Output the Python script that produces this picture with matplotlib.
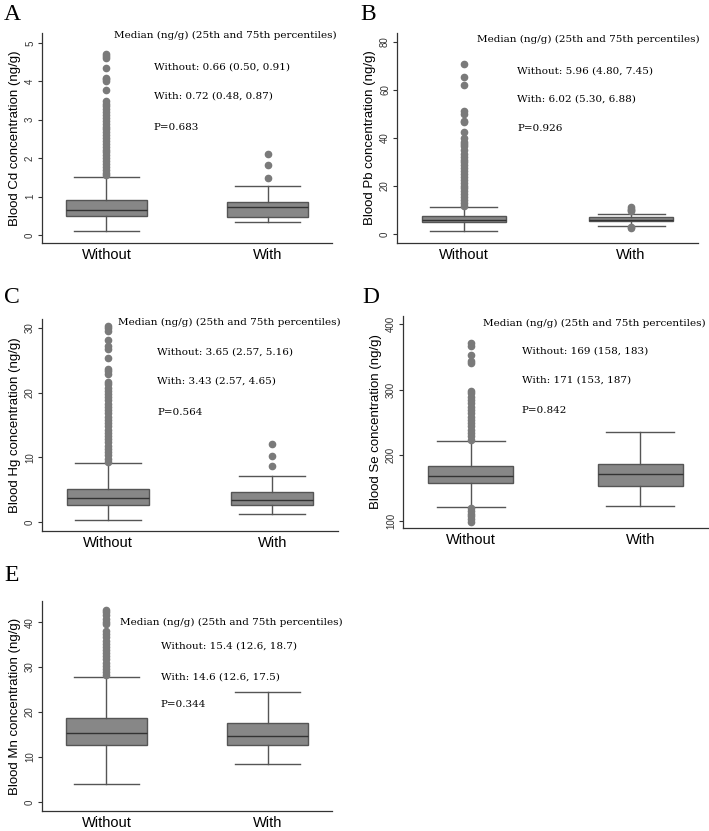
import matplotlib
matplotlib.use('Agg')
import matplotlib.pyplot as plt

groups = ["Without", "With"]
panel_letters = ["A", "B", "C", "D", "E"]
metals = ["Cd", "Pb", "Hg", "Se", "Mn"]

# box stats per metal: (whislo, q1, med, q3, whishi) for Without / With
cd_without = [0.09, 0.50, 0.66, 0.91, 1.52]
cd_with = [0.33, 0.48, 0.72, 0.87, 1.27]
pb_without = [1.2, 4.80, 5.96, 7.45, 11.3]
pb_with = [3.3, 5.30, 6.02, 6.88, 8.5]
hg_without = [0.35, 2.57, 3.65, 5.16, 9.1]
hg_with = [1.2, 2.57, 3.43, 4.65, 7.1]
se_without = [121, 158, 169, 183, 221]
se_with = [123, 153, 171, 187, 236]
mn_without = [4.0, 12.6, 15.4, 18.7, 27.8]
mn_with = [8.4, 12.6, 14.6, 17.5, 24.5]

# outliers
cd_out_without = [1.55, 1.62, 1.7, 1.78, 1.85, 1.92, 2.0, 2.08, 2.15, 2.22, 2.3, 2.38,
                  2.45, 2.52, 2.6, 2.68, 2.75, 2.82, 2.9, 2.98, 3.05, 3.12, 3.2, 3.28,
                  3.35, 3.42, 3.48, 3.78, 4.0, 4.05, 4.1, 4.35, 4.62, 4.67, 4.72]
cd_out_with = [1.48, 1.82, 2.12]
pb_out_without = [11.8, 13, 14.2, 15.4, 16.6, 17.8, 19, 20.2, 21.4, 22.6, 23.8, 25,
                  26.2, 27.4, 28.6, 29.8, 31, 32.2, 33.5, 35, 36.5, 37.5, 38.5, 40,
                  42.3, 46.5, 47.2, 50.2, 51.3, 62, 65.5, 71]
pb_out_with = [2.4, 2.8, 9.4, 10, 10.6, 11.1]
hg_out_without = [9.3, 9.8, 10.3, 10.8, 11.3, 11.8, 12.3, 12.8, 13.3, 13.8, 14.3, 14.8,
                  15.3, 15.8, 16.3, 16.8, 17.3, 17.8, 18.3, 18.8, 19.3, 19.8, 20.3,
                  20.8, 21.3, 21.7, 22.9, 23.3, 23.6, 25.3, 26.8, 27.3, 28.1, 29.6,
                  30.0, 30.3]
hg_out_with = [8.6, 10.2, 12.1]
se_out_without = [99, 103, 107, 111, 115, 119, 224, 229, 234, 239, 244, 249, 254, 259,
                  264, 269, 274, 279, 284, 289, 295, 298, 340, 343, 353, 366, 371]
se_out_with = []
mn_out_without = [28.2, 28.9, 29.6, 30.3, 31.0, 31.7, 32.4, 33.1, 33.8, 34.5, 35.2,
                  35.9, 36.6, 37.3, 38.0, 39.5, 40.1, 40.6, 41.6, 42.2, 42.6]
mn_out_with = []

ann_without = ["0.66 (0.50, 0.91)", "5.96 (4.80, 7.45)", "3.65 (2.57, 5.16)",
               "169 (158, 183)", "15.4 (12.6, 18.7)"]
ann_with = ["0.72 (0.48, 0.87)", "6.02 (5.30, 6.88)", "3.43 (2.57, 4.65)",
            "171 (153, 187)", "14.6 (12.6, 17.5)"]
p_values = ["0.683", "0.926", "0.564", "0.842", "0.344"]

stats = [(cd_without, cd_with), (pb_without, pb_with), (hg_without, hg_with),
         (se_without, se_with), (mn_without, mn_with)]
outliers = [(cd_out_without, cd_out_with), (pb_out_without, pb_out_with),
            (hg_out_without, hg_out_with), (se_out_without, se_out_with),
            (mn_out_without, mn_out_with)]
yticks = [[0, 1, 2, 3, 4, 5], [0, 20, 40, 60, 80], [0, 10, 20, 30],
          [100, 200, 300, 400], [0, 10, 20, 30, 40]]
ylims = [(-0.21, 5.26), (-3.75, 83.75), (-1.39, 31.4), (89.3, 412), (-2.0, 44.7)]

# layout (pixels) and text positions (axes fractions)
W, H = 709, 831
rects = [(42, 33, 290, 210), (397, 33, 301, 210), (42, 319, 296, 212),
         (403, 316, 305, 212), (42, 601, 290, 210)]
text_x = [(0.248, 0.386), (0.266, 0.40), (0.257, 0.39), (0.262, 0.39), (0.27, 0.41)]
text_y = [(0.99, 0.84, 0.70, 0.55), (0.967, 0.82, 0.686, 0.543),
          (0.986, 0.844, 0.708, 0.561), (0.967, 0.835, 0.698, 0.552),
          (0.90, 0.786, 0.64, 0.505)]
letter_pos = [(4, 20), (360, 20), (4, 303), (362, 303), (4, 581)]

fig = plt.figure(figsize=(W / 100, H / 100), dpi=100)
serif = ['DejaVu Serif']
sans = ['Liberation Sans', 'DejaVu Sans']

for i in range(5):
    x0, y0, w, h = rects[i]
    ax = fig.add_axes([x0 / W, 1 - (y0 + h) / H, w / W, h / H])
    bstats = []
    for j in range(2):
        lo, q1, med, q3, hi = stats[i][j]
        bstats.append(dict(whislo=lo, q1=q1, med=med, q3=q3, whishi=hi,
                           fliers=outliers[i][j], label=groups[j]))
    ax.bxp(bstats, positions=[1, 2], widths=0.5, capwidths=0.4, patch_artist=True,
           boxprops=dict(facecolor='#878787', edgecolor='#555555', linewidth=1.0),
           medianprops=dict(color='#333333', linewidth=1.0),
           whiskerprops=dict(color='#555555', linewidth=1.0),
           capprops=dict(color='#555555', linewidth=1.0),
           flierprops=dict(marker='o', markerfacecolor='#7a7a7a',
                           markeredgecolor='#7a7a7a', markersize=4.5))
    ax.set_xlim(0.6, 2.4)
    ax.set_ylim(*ylims[i])
    ax.set_yticks(yticks[i])
    ax.set_yticklabels([str(t) for t in yticks[i]], rotation=90, va='center',
                       fontsize=7, family=sans, color='#333333')
    ax.set_xticks([1, 2])
    ax.set_xticklabels(groups, fontsize=10.5, family=sans)
    ax.tick_params(axis='x', length=0, pad=3.5)
    ax.tick_params(axis='y', length=3, width=0.8, color='#333333', pad=2)
    for s in ['top', 'right']:
        ax.spines[s].set_visible(False)
    for s in ['left', 'bottom']:
        ax.spines[s].set_color('#333333')
        ax.spines[s].set_linewidth(0.9)
    ax.set_ylabel("Blood %s concentration (ng/g)" % metals[i], fontsize=9.5,
                  family=sans, labelpad=3)

    tx0, tx1 = text_x[i]
    ty = text_y[i]
    ax.text(tx0, ty[0], "Median (ng/g) (25th and 75th percentiles)", transform=ax.transAxes,
            fontsize=7.5, family=serif, va='center', ha='left')
    ax.text(tx1, ty[1], "Without: " + ann_without[i], transform=ax.transAxes,
            fontsize=7.5, family=serif, va='center', ha='left')
    ax.text(tx1, ty[2], "With: " + ann_with[i], transform=ax.transAxes,
            fontsize=7.5, family=serif, va='center', ha='left')
    ax.text(tx1, ty[3], "P=" + p_values[i], transform=ax.transAxes,
            fontsize=7.5, family=serif, va='center', ha='left')

    lx, ly = letter_pos[i]
    fig.text(lx / W, 1 - ly / H, panel_letters[i], fontsize=17,
             family=['Liberation Serif', 'DejaVu Serif'], va='baseline', ha='left')

fig.savefig("out.png", dpi=100)
